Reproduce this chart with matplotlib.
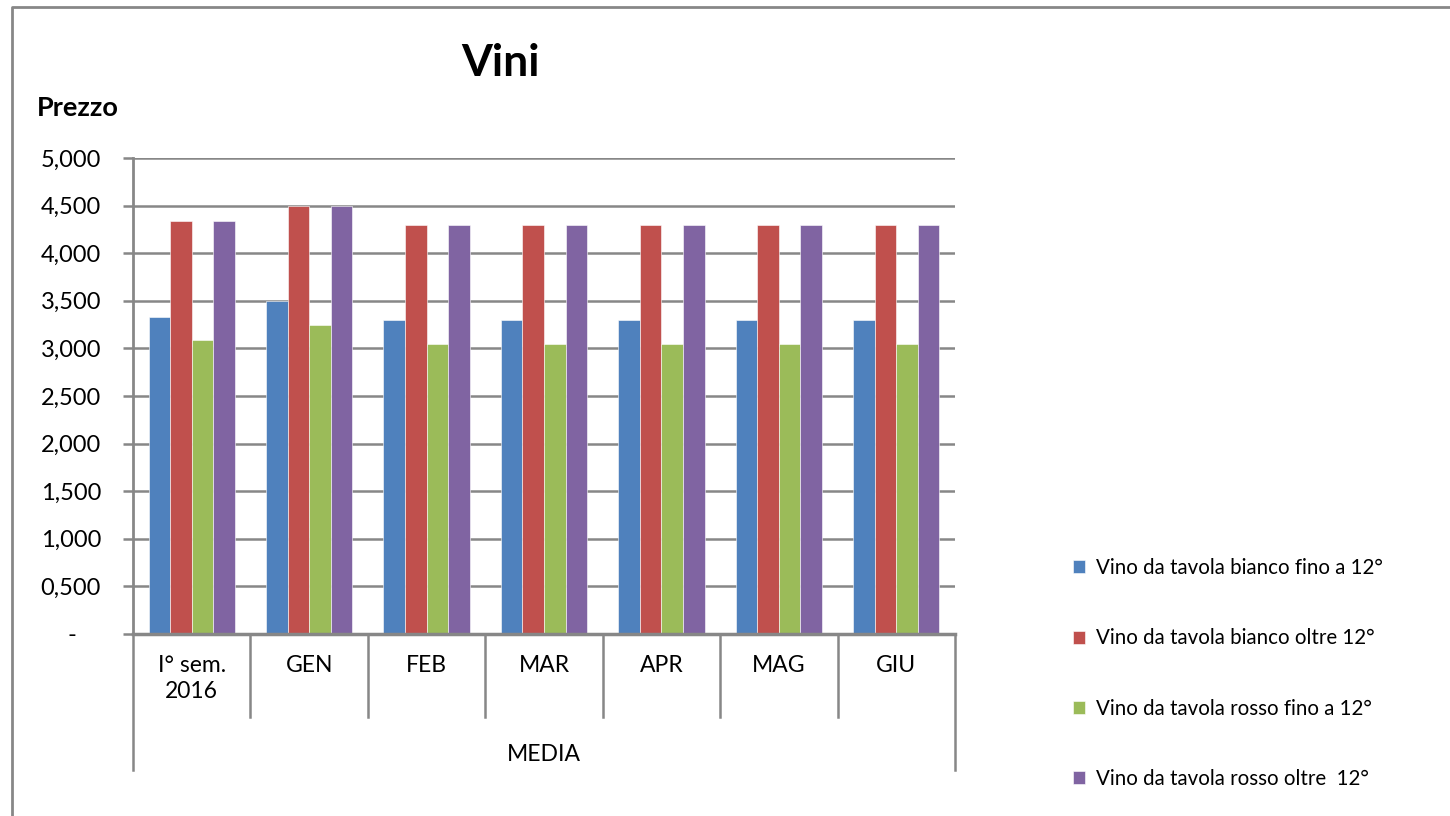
import matplotlib.pyplot as plt
from matplotlib.lines import Line2D
import numpy as np

plt.rcParams['font.family'] = ['Lato', 'DejaVu Sans']

# data
categories = ["I° sem.\n2016", "GEN", "FEB", "MAR", "APR", "MAG", "GIU"]
series_names = ["Vino da tavola bianco fino a 12°",
                "Vino da tavola bianco oltre 12°",
                "Vino da tavola rosso fino a 12°",
                "Vino da tavola rosso oltre  12°"]
bianco_fino = [3.333, 3.50, 3.30, 3.30, 3.30, 3.30, 3.30]
bianco_oltre = [4.333, 4.50, 4.30, 4.30, 4.30, 4.30, 4.30]
rosso_fino = [3.083, 3.25, 3.05, 3.05, 3.05, 3.05, 3.05]
rosso_oltre = [4.333, 4.50, 4.30, 4.30, 4.30, 4.30, 4.30]
colors = ["#4F81BD", "#C0504D", "#9BBB59", "#8064A2"]
yticks = [0, 0.5, 1, 1.5, 2, 2.5, 3, 3.5, 4, 4.5, 5]

W, H = 1450, 816
fig = plt.figure(figsize=(W / 100, H / 100), dpi=100)
grey = "#878787"

# outer chart border (top and left visible)
fig.lines.append(Line2D([12 / W, 12 / W, 1.0], [0.0, 1 - 7 / H, 1 - 7 / H],
                        transform=fig.transFigure, color=grey, linewidth=2))

ax = fig.add_axes([133 / W, 1 - 634 / H, (955 - 133) / W, (634 - 158) / H])

x = np.arange(len(categories))
bw = 0.184
allseries = [bianco_fino, bianco_oltre, rosso_fino, rosso_oltre]
handles = []
for i, vals in enumerate(allseries):
    b = ax.bar(x + (i - 1.5) * bw, vals, bw, color=colors[i],
               edgecolor="white", linewidth=0.4, zorder=3, label=series_names[i])
    handles.append(b)

ax.set_xlim(-0.5, len(categories) - 0.5)
ax.set_ylim(0, 5)
ax.set_yticks(yticks)
ax.set_yticklabels(["-    " if v == 0 else ("%.3f" % v).replace(".", ",") for v in yticks],
                   fontsize=17)
ax.yaxis.grid(True, color=grey, linewidth=1.8, zorder=0)
ax.tick_params(axis="y", length=7, width=1.8, color=grey, pad=16)
ax.tick_params(axis="x", length=0, labelbottom=False)
for s in ["top", "right"]:
    ax.spines[s].set_visible(False)
ax.spines["left"].set_color(grey)
ax.spines["left"].set_linewidth(2)
ax.spines["bottom"].set_color(grey)
ax.spines["bottom"].set_linewidth(2.5)
ax.spines["bottom"].set_zorder(4)

# category labels and separators
tr = ax.get_xaxis_transform()
for i, c in enumerate(categories):
    ax.text(i, -0.045, c, transform=tr, ha="center", va="top", fontsize=16.5,
            linespacing=1.25)
for k in range(len(categories) + 1):
    bottom = -0.286 if k in (0, len(categories)) else -0.174
    ax.plot([k - 0.5, k - 0.5], [0, bottom], transform=tr, color=grey,
            linewidth=1.8, clip_on=False)
ax.text((len(categories) - 1) / 2, -0.254, "MEDIA", transform=tr,
        ha="center", va="center", fontsize=16.5)

fig.text(500 / W, 1 - 63 / H, "Vini", ha="center", va="center",
         fontsize=32, fontweight="bold")
fig.text(37 / W, 1 - 108 / H, "Prezzo", ha="left", va="center",
         fontsize=19.5, fontweight="bold")

fig.legend(handles=handles, loc="upper left",
           bbox_to_anchor=(1073 / W, 1 - 558 / H), frameon=False,
           fontsize=14.8, handlelength=0.6, handleheight=0.6,
           handletextpad=0.5, labelspacing=2.45, borderpad=0,
           borderaxespad=0)

fig.savefig("out.png", dpi=100)
